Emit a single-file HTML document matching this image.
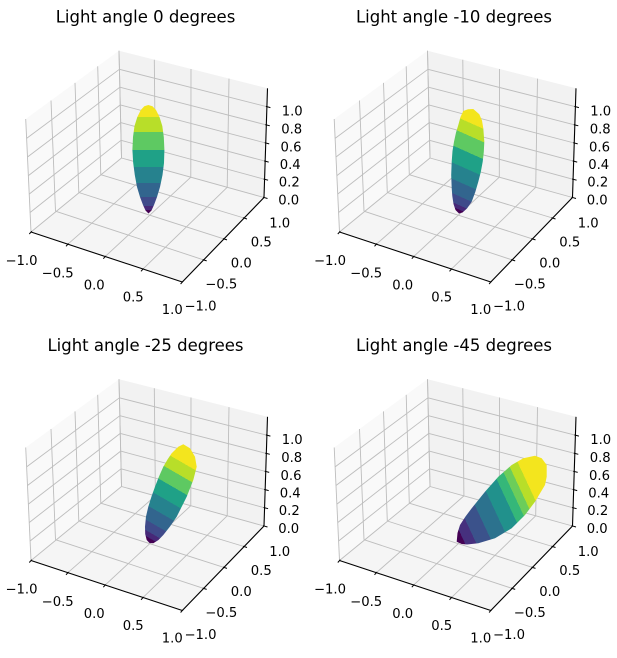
<!DOCTYPE html>
<html>
<head>
<meta charset="utf-8">
<style>
html,body{margin:0;padding:0;background:#fff;}
svg{display:block;}
text{font-family:"DejaVu Sans","Liberation Sans",sans-serif;fill:#000;}
.t{font-size:13.2px;text-anchor:middle;}
.ti{font-size:16.5px;text-anchor:middle;}
</style>
</head>
<body>
<svg width="617" height="658" viewBox="0 0 617 658" xmlns="http://www.w3.org/2000/svg" xmlns:xlink="http://www.w3.org/1999/xlink">
<rect x="0" y="0" width="617" height="658" fill="#fff"/>
<defs>
  <g id="box">
    <polygon points="31,232 25.7,119 119,50.7 121.5,158" fill="#f9f9f9"/>
    <polygon points="121.5,158 119,50.7 267.5,88.3 264,197.5" fill="#f2f2f2"/>
    <polygon points="121.5,158 31,232 182.3,282 264,197.5" fill="#f5f5f5"/>
    <g stroke="#bdbdbd" stroke-width="0.9" fill="none">
      <line x1="31" y1="232" x2="25.7" y2="119"/>
      <line x1="55.5" y1="211.2" x2="51" y2="100.5"/>
      <line x1="78.8" y1="192.5" x2="75" y2="82.9"/>
      <line x1="100.8" y1="174.7" x2="97.7" y2="66.3"/>
      <line x1="121.5" y1="158" x2="119" y2="50.7"/>
      <line x1="31" y1="232" x2="121.5" y2="158"/>
      <line x1="30.1" y1="212.5" x2="121" y2="140.3"/>
      <line x1="29.3" y1="194" x2="120.7" y2="122.6"/>
      <line x1="28.4" y1="175.6" x2="120.3" y2="104.9"/>
      <line x1="27.5" y1="157" x2="119.9" y2="87.2"/>
      <line x1="26.6" y1="138.4" x2="119.4" y2="69.3"/>
      <line x1="121.5" y1="158" x2="119" y2="50.7"/>
      <line x1="155.4" y1="167.4" x2="154.3" y2="59.7"/>
      <line x1="190.8" y1="177.2" x2="191" y2="69"/>
      <line x1="227.2" y1="187.3" x2="229" y2="78.6"/>
      <line x1="121.5" y1="158" x2="264" y2="197.5"/>
      <line x1="121" y1="140.3" x2="264.6" y2="179.3"/>
      <line x1="120.7" y1="122.6" x2="265.2" y2="161.2"/>
      <line x1="120.3" y1="104.9" x2="265.7" y2="143"/>
      <line x1="119.9" y1="87.2" x2="266.3" y2="124.9"/>
      <line x1="119.4" y1="69.3" x2="266.9" y2="106.7"/>
      <line x1="67.7" y1="244.3" x2="155.4" y2="167.4"/>
      <line x1="105" y1="256.7" x2="190.8" y2="177.2"/>
      <line x1="142.7" y1="269.3" x2="227.2" y2="187.3"/>
      <line x1="182.3" y1="282" x2="264" y2="197.5"/>
      <line x1="55.5" y1="211.2" x2="203.7" y2="259.9"/>
      <line x1="78.8" y1="192.5" x2="224" y2="238.9"/>
      <line x1="100.8" y1="174.7" x2="244" y2="218"/>
    </g>
    <g stroke="#000" stroke-width="1.1" fill="none">
      <line x1="31" y1="232" x2="182.3" y2="282"/>
      <line x1="182.3" y1="282" x2="264" y2="197.5"/>
      <line x1="264" y1="197.5" x2="267.5" y2="88.3"/>
    </g>
    <g stroke="#000" stroke-width="1" fill="none">
      <line x1="31.8" y1="231.2" x2="29.3" y2="234"/>
      <line x1="68.5" y1="243.5" x2="66" y2="246.3"/>
      <line x1="105.8" y1="255.9" x2="103.3" y2="258.7"/>
      <line x1="143.5" y1="268.5" x2="141" y2="271.3"/>
      <line x1="183.1" y1="281.2" x2="180.6" y2="284"/>
      <line x1="202.7" y1="259.6" x2="206.7" y2="260.9"/>
      <line x1="223" y1="238.6" x2="227" y2="239.9"/>
      <line x1="243" y1="217.7" x2="247" y2="219"/>
      <line x1="263" y1="197.2" x2="267.5" y2="198.5"/>
      <line x1="263.6" y1="179" x2="268.1" y2="180.2"/>
      <line x1="264.2" y1="160.9" x2="268.7" y2="162.1"/>
      <line x1="264.7" y1="142.7" x2="269.2" y2="143.9"/>
      <line x1="265.3" y1="124.6" x2="269.8" y2="125.8"/>
      <line x1="265.9" y1="106.4" x2="270.4" y2="107.6"/>
    </g>
  </g>

  <linearGradient id="g1" gradientUnits="userSpaceOnUse" x1="0" y1="213.5" x2="0" y2="105">
    <stop offset="0" stop-color="#440154"/><stop offset="0.03" stop-color="#440154"/>
    <stop offset="0.03" stop-color="#472878"/><stop offset="0.07" stop-color="#472878"/>
    <stop offset="0.07" stop-color="#3f4a8a"/><stop offset="0.152" stop-color="#3f4a8a"/>
    <stop offset="0.152" stop-color="#32658e"/><stop offset="0.281" stop-color="#32658e"/>
    <stop offset="0.281" stop-color="#26828e"/><stop offset="0.429" stop-color="#26828e"/>
    <stop offset="0.429" stop-color="#1fa187"/><stop offset="0.585" stop-color="#1fa187"/>
    <stop offset="0.585" stop-color="#5ec962"/><stop offset="0.751" stop-color="#5ec962"/>
    <stop offset="0.751" stop-color="#b8de29"/><stop offset="0.889" stop-color="#b8de29"/>
    <stop offset="0.889" stop-color="#f3e51e"/><stop offset="1" stop-color="#f3e51e"/>
  </linearGradient>
  <linearGradient id="g2" gradientUnits="userSpaceOnUse" x1="460" y1="213.3" x2="501" y2="121.2">
    <stop offset="0" stop-color="#440154"/><stop offset="0.03" stop-color="#440154"/>
    <stop offset="0.03" stop-color="#472878"/><stop offset="0.07" stop-color="#472878"/>
    <stop offset="0.07" stop-color="#3f4a8a"/><stop offset="0.152" stop-color="#3f4a8a"/>
    <stop offset="0.152" stop-color="#32658e"/><stop offset="0.281" stop-color="#32658e"/>
    <stop offset="0.281" stop-color="#26828e"/><stop offset="0.429" stop-color="#26828e"/>
    <stop offset="0.429" stop-color="#1fa187"/><stop offset="0.585" stop-color="#1fa187"/>
    <stop offset="0.585" stop-color="#5ec962"/><stop offset="0.74" stop-color="#5ec962"/>
    <stop offset="0.74" stop-color="#b8de29"/><stop offset="0.86" stop-color="#b8de29"/>
    <stop offset="0.86" stop-color="#f3e51e"/><stop offset="1" stop-color="#f3e51e"/>
  </linearGradient>
  <linearGradient id="g3" gradientUnits="userSpaceOnUse" x1="146.7" y1="540" x2="197.2" y2="452.5">
    <stop offset="0" stop-color="#440154"/><stop offset="0.03" stop-color="#440154"/>
    <stop offset="0.03" stop-color="#472878"/><stop offset="0.08" stop-color="#472878"/>
    <stop offset="0.08" stop-color="#3f4a8a"/><stop offset="0.17" stop-color="#3f4a8a"/>
    <stop offset="0.17" stop-color="#32658e"/><stop offset="0.3" stop-color="#32658e"/>
    <stop offset="0.3" stop-color="#26828e"/><stop offset="0.44" stop-color="#26828e"/>
    <stop offset="0.44" stop-color="#1fa187"/><stop offset="0.585" stop-color="#1fa187"/>
    <stop offset="0.585" stop-color="#5ec962"/><stop offset="0.72" stop-color="#5ec962"/>
    <stop offset="0.72" stop-color="#b8de29"/><stop offset="0.84" stop-color="#b8de29"/>
    <stop offset="0.84" stop-color="#f3e51e"/><stop offset="1" stop-color="#f3e51e"/>
  </linearGradient>
  <linearGradient id="g4" gradientUnits="userSpaceOnUse" x1="456.7" y1="541.7" x2="559.9" y2="493.5">
    <stop offset="0" stop-color="#440154"/><stop offset="0.06" stop-color="#440154"/>
    <stop offset="0.06" stop-color="#46307e"/><stop offset="0.15" stop-color="#46307e"/>
    <stop offset="0.15" stop-color="#3b528b"/><stop offset="0.28" stop-color="#3b528b"/>
    <stop offset="0.28" stop-color="#2c728e"/><stop offset="0.42" stop-color="#2c728e"/>
    <stop offset="0.42" stop-color="#21918c"/><stop offset="0.55" stop-color="#21918c"/>
    <stop offset="0.55" stop-color="#35b779"/><stop offset="0.63" stop-color="#35b779"/>
    <stop offset="0.63" stop-color="#6ccd5a"/><stop offset="0.70" stop-color="#6ccd5a"/>
    <stop offset="0.70" stop-color="#b8de29"/><stop offset="0.78" stop-color="#b8de29"/>
    <stop offset="0.78" stop-color="#f3e51e"/><stop offset="1" stop-color="#f3e51e"/>
  </linearGradient>
</defs>

<use href="#box" xlink:href="#box"/>
<use href="#box" xlink:href="#box" transform="translate(308.5,0)"/>
<use href="#box" xlink:href="#box" transform="translate(0,328.5)"/>
<use href="#box" xlink:href="#box" transform="translate(308.5,328.5)"/>

<polygon fill="url(#g1)" points="148.3,105 152.5,106.3 156,110 159.5,117 162.3,126 163.8,137 164.4,150 164,163 162.5,175 160,187 157,197 154,205 151.5,210.5 148.5,213.5 145.5,210.5 143,205 140,197 137,187 134.8,175 133.2,163 132.4,150 133,137 134.5,126 137.3,117 140.8,110 144.3,106.3"/>
<polygon fill="url(#g2)" points="463.3,111 468,109.3 473.3,109 479.3,114.3 482,120.5 483.3,128.3 484.3,141.7 483.8,152 482.7,161.7 480.8,172 478.3,181.7 475.3,192 471.7,201.7 467,208.5 462.5,212.5 459,213.5 455.5,210 453.5,204 452.3,196 451.7,188.3 451.2,175 451.7,161.7 452.5,151 454,141.7 456,132.5 458.3,125 460.5,117"/>
<polygon fill="url(#g3)" points="178.3,446.7 183.3,444.3 190,448.3 195,456.7 196.7,466.7 193.3,480 186.7,496.7 176.7,516.7 170,526.5 163.3,535 158.5,540 153.3,543.3 149.5,543 146.7,540 145.2,534 145,526.7 146,516.5 148.3,506.7 151.5,496.5 155,486.7 159,476.5 163.3,466.7 167.5,459.5 171.7,453.3"/>
<polygon fill="url(#g4)" points="456.7,541.7 457.5,533 460,525 465.5,516.5 471.7,508.3 485,491.7 498.3,476.7 511.7,465 523.3,458.3 535,455.7 541.7,458.3 546.7,465 546.7,476.7 545,485 535,501.7 525,515 511.7,528.3 495,538.3 478.3,543.3 467,544.5 461.7,544"/>

<g>
  <text class="ti" x="145.5" y="22.7">Light angle 0 degrees</text>
  <text class="t" x="21.5" y="265">−1.0</text>
  <text class="t" x="57.7" y="277.7">−0.5</text>
  <text class="t" x="94.2" y="289.3">0.0</text>
  <text class="t" x="133.2" y="301.7">0.5</text>
  <text class="t" x="172.3" y="314">1.0</text>
  <text class="t" x="200.5" y="310.7">−1.0</text>
  <text class="t" x="221.3" y="288.3">−0.5</text>
  <text class="t" x="241.3" y="267.3">0.0</text>
  <text class="t" x="261.3" y="246.7">0.5</text>
  <text class="t" x="279.7" y="227.5">1.0</text>
  <text class="t" x="288.7" y="204.6">0.0</text>
  <text class="t" x="289.3" y="186.6">0.2</text>
  <text class="t" x="290.2" y="169.1">0.4</text>
  <text class="t" x="291" y="151.5">0.6</text>
  <text class="t" x="291.7" y="133.6">0.8</text>
  <text class="t" x="292.2" y="115.3">1.0</text>
</g>
<g transform="translate(308.5,0)">
  <text class="ti" x="145.5" y="22.7">Light angle -10 degrees</text>
  <text class="t" x="21.5" y="265">−1.0</text>
  <text class="t" x="57.7" y="277.7">−0.5</text>
  <text class="t" x="94.2" y="289.3">0.0</text>
  <text class="t" x="133.2" y="301.7">0.5</text>
  <text class="t" x="172.3" y="314">1.0</text>
  <text class="t" x="200.5" y="310.7">−1.0</text>
  <text class="t" x="221.3" y="288.3">−0.5</text>
  <text class="t" x="241.3" y="267.3">0.0</text>
  <text class="t" x="261.3" y="246.7">0.5</text>
  <text class="t" x="279.7" y="227.5">1.0</text>
  <text class="t" x="288.7" y="204.6">0.0</text>
  <text class="t" x="289.3" y="186.6">0.2</text>
  <text class="t" x="290.2" y="169.1">0.4</text>
  <text class="t" x="291" y="151.5">0.6</text>
  <text class="t" x="291.7" y="133.6">0.8</text>
  <text class="t" x="292.2" y="115.3">1.0</text>
</g>
<g transform="translate(0,328.5)">
  <text class="ti" x="145.5" y="22.7">Light angle -25 degrees</text>
  <text class="t" x="21.5" y="265">−1.0</text>
  <text class="t" x="57.7" y="277.7">−0.5</text>
  <text class="t" x="94.2" y="289.3">0.0</text>
  <text class="t" x="133.2" y="301.7">0.5</text>
  <text class="t" x="172.3" y="314">1.0</text>
  <text class="t" x="200.5" y="310.7">−1.0</text>
  <text class="t" x="221.3" y="288.3">−0.5</text>
  <text class="t" x="241.3" y="267.3">0.0</text>
  <text class="t" x="261.3" y="246.7">0.5</text>
  <text class="t" x="279.7" y="227.5">1.0</text>
  <text class="t" x="288.7" y="204.6">0.0</text>
  <text class="t" x="289.3" y="186.6">0.2</text>
  <text class="t" x="290.2" y="169.1">0.4</text>
  <text class="t" x="291" y="151.5">0.6</text>
  <text class="t" x="291.7" y="133.6">0.8</text>
  <text class="t" x="292.2" y="115.3">1.0</text>
</g>
<g transform="translate(308.5,328.5)">
  <text class="ti" x="145.5" y="22.7">Light angle -45 degrees</text>
  <text class="t" x="21.5" y="265">−1.0</text>
  <text class="t" x="57.7" y="277.7">−0.5</text>
  <text class="t" x="94.2" y="289.3">0.0</text>
  <text class="t" x="133.2" y="301.7">0.5</text>
  <text class="t" x="172.3" y="314">1.0</text>
  <text class="t" x="200.5" y="310.7">−1.0</text>
  <text class="t" x="221.3" y="288.3">−0.5</text>
  <text class="t" x="241.3" y="267.3">0.0</text>
  <text class="t" x="261.3" y="246.7">0.5</text>
  <text class="t" x="279.7" y="227.5">1.0</text>
  <text class="t" x="288.7" y="204.6">0.0</text>
  <text class="t" x="289.3" y="186.6">0.2</text>
  <text class="t" x="290.2" y="169.1">0.4</text>
  <text class="t" x="291" y="151.5">0.6</text>
  <text class="t" x="291.7" y="133.6">0.8</text>
  <text class="t" x="292.2" y="115.3">1.0</text>
</g>
</svg>
</body>
</html>
